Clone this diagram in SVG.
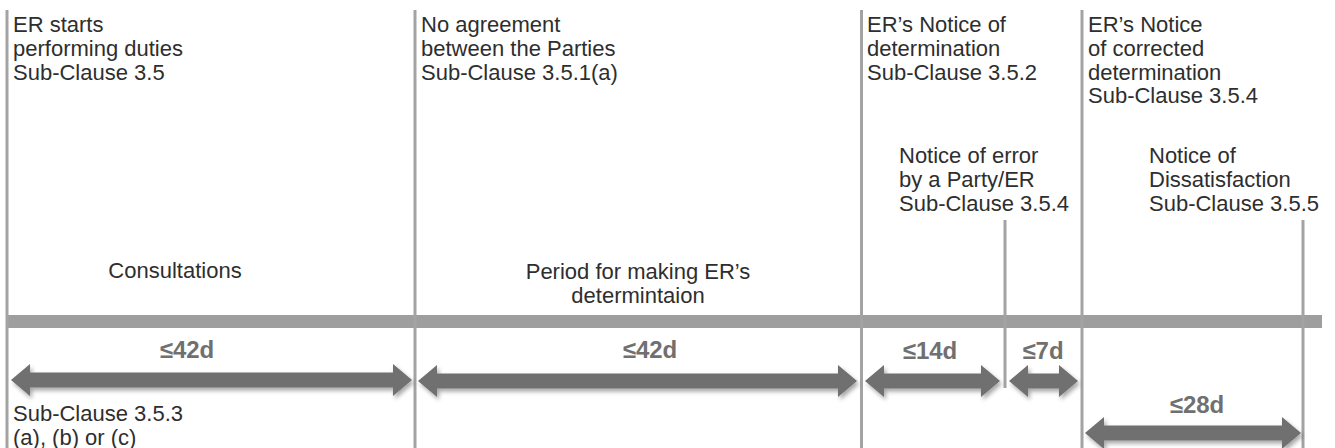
<svg xmlns="http://www.w3.org/2000/svg" width="1335" height="448" viewBox="0 0 1335 448">
  <defs>
    <filter id="shadow" x="-10%" y="-50%" width="120%" height="200%">
      <feDropShadow dx="2" dy="3" stdDeviation="2" flood-color="#000" flood-opacity="0.35"/>
    </filter>
  </defs>
  <style>
    .vline { stroke: #a3a3a3; stroke-width: 3; fill: none; }
    .bar { fill: #9e9e9e; }
    .arrow { fill: #707070; filter: url(#shadow); }
    .lbl { font-family: "Liberation Sans", Arial, sans-serif; font-size: 22px; fill: #2e2e2e; }
    .dur { font-family: "Liberation Sans", Arial, sans-serif; font-size: 24px; font-weight: bold; fill: #707070; text-anchor: middle; }
    .mid { text-anchor: middle; }
  </style>
  <rect width="1335" height="448" fill="#ffffff"/>

  <g id="timeline">
    <rect class="bar" x="7" y="315" width="1315" height="13"/>
  </g>

  <g id="connectors">
    <line class="vline" x1="7" y1="10" x2="7" y2="448"/>
    <line class="vline" x1="415" y1="10" x2="415" y2="448"/>
    <line class="vline" x1="861.5" y1="10" x2="861.5" y2="448"/>
    <line class="vline" x1="1082" y1="10" x2="1082" y2="448"/>
    <line class="vline" x1="1005" y1="220" x2="1005" y2="388"/>
    <line class="vline" x1="1303" y1="220" x2="1303" y2="448"/>
    <path class="arrow" d="M11,380 L30,364 L30,372.5 L393,372.5 L393,364 L412,380 L393,396 L393,387.5 L30,387.5 L30,396 Z"/>
    <path class="arrow" d="M418,381 L437,365 L437,373.5 L838,373.5 L838,365 L857,381 L838,397 L838,388.5 L437,388.5 L437,397 Z"/>
    <path class="arrow" d="M865,381 L884,365 L884,373.5 L981,373.5 L981,365 L1000,381 L981,397 L981,388.5 L884,388.5 L884,397 Z"/>
    <path class="arrow" d="M1009,381 L1028,365 L1028,373.5 L1059,373.5 L1059,365 L1078,381 L1059,397 L1059,388.5 L1028,388.5 L1028,397 Z"/>
    <path class="arrow" d="M1085,433 L1104,417 L1104,425.5 L1282,425.5 L1282,417 L1301,433 L1282,449 L1282,440.5 L1104,440.5 L1104,449 Z"/>
  </g>

  <g id="node-er-starts">
    <text class="lbl" x="13" y="32">ER starts</text>
    <text class="lbl" x="13" y="56">performing duties</text>
    <text class="lbl" x="13" y="80">Sub-Clause 3.5</text>
  </g>
  <g id="node-no-agreement">
    <text class="lbl" x="421" y="32">No agreement</text>
    <text class="lbl" x="421" y="56">between the Parties</text>
    <text class="lbl" x="421" y="80">Sub-Clause 3.5.1(a)</text>
  </g>
  <g id="node-notice-determination">
    <text class="lbl" x="867" y="32">ER’s Notice of</text>
    <text class="lbl" x="867" y="56">determination</text>
    <text class="lbl" x="867" y="80">Sub-Clause 3.5.2</text>
  </g>
  <g id="node-corrected-determination">
    <text class="lbl" x="1088" y="32">ER’s Notice</text>
    <text class="lbl" x="1088" y="56">of corrected</text>
    <text class="lbl" x="1088" y="80">determination</text>
    <text class="lbl" x="1088" y="103">Sub-Clause 3.5.4</text>
  </g>
  <g id="node-notice-error">
    <text class="lbl" x="899" y="163">Notice of error</text>
    <text class="lbl" x="899" y="187">by a Party/ER</text>
    <text class="lbl" x="899" y="211">Sub-Clause 3.5.4</text>
  </g>
  <g id="node-dissatisfaction">
    <text class="lbl" x="1149" y="163">Notice of</text>
    <text class="lbl" x="1149" y="187">Dissatisfaction</text>
    <text class="lbl" x="1149" y="211">Sub-Clause 3.5.5</text>
  </g>
  <g id="node-consultations">
    <text class="lbl mid" x="175" y="278">Consultations</text>
  </g>
  <g id="node-period">
    <text class="lbl mid" x="638" y="279">Period for making ER’s</text>
    <text class="lbl mid" x="638" y="303">determintaion</text>
  </g>
  <g id="node-sub-clause-353">
    <text class="lbl" x="13" y="421">Sub-Clause 3.5.3</text>
    <text class="lbl" x="13" y="445">(a), (b) or (c)</text>
  </g>

  <g id="durations">
    <text class="dur" x="187" y="358">≤42d</text>
    <text class="dur" x="650" y="358">≤42d</text>
    <text class="dur" x="930" y="359">≤14d</text>
    <text class="dur" x="1043" y="359">≤7d</text>
    <text class="dur" x="1197" y="413">≤28d</text>
  </g>
</svg>
